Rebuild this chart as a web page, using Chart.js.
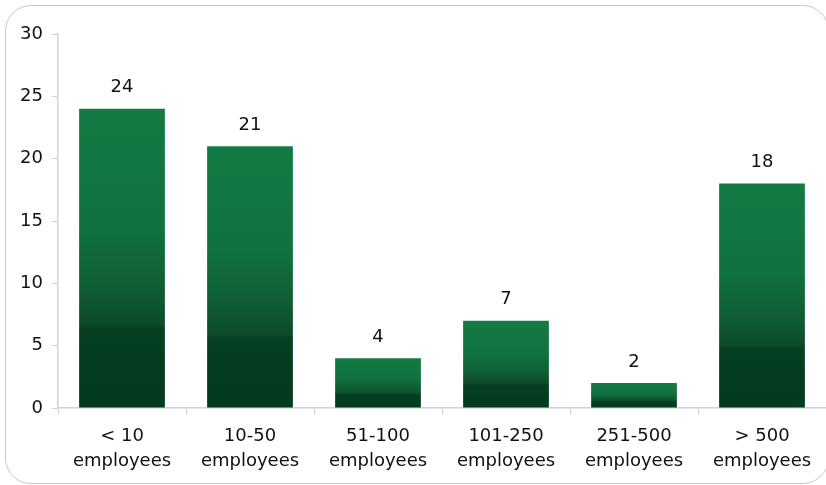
<!DOCTYPE html>
<html>
<head>
<meta charset="utf-8">
<script src="https://cdn.jsdelivr.net/npm/chart.js@4"></script>
<style>
  html, body { margin:0; padding:0; background:#fff; }
  body { width:826px; height:485px; overflow:hidden; position:relative; }
  .frame {
    position:absolute; left:5px; top:5px; width:824px; height:479px;
    border:1.5px solid #cacaca; border-radius:26px; box-sizing:border-box;
  }
  #wrap { position:absolute; left:0; top:0; width:826px; height:485px; }
</style>
</head>
<body>
<div class="frame"></div>
<div id="wrap"><canvas id="chart"></canvas></div>
<script>
(function(){
  const categories = [['< 10', 'employees'], ['10-50', 'employees'], ['51-100', 'employees'],
                      ['101-250', 'employees'], ['251-500', 'employees'], ['> 500', 'employees']];
  const counts = [24, 21, 4, 7, 2, 18];
  const yTicks = [0, 5, 10, 15, 20, 25, 30];

  const FONT = 'DejaVu Sans';
  const axisGrey = '#d2d2d2';

  // each bar gets its own gradient, green on top, dark at the base
  function barFill(ctx){
    const chart = ctx.chart;
    if (!chart.chartArea || ctx.dataIndex === undefined) return '#0f6b39';
    const y = chart.scales.y;
    const top = y.getPixelForValue(counts[ctx.dataIndex]);
    const base = y.getPixelForValue(0);
    const g = chart.ctx.createLinearGradient(0, top, 0, base);
    g.addColorStop(0, '#137b44');
    g.addColorStop(0.4, '#117140');
    g.addColorStop(0.6, '#0f5d34');
    g.addColorStop(0.72, '#0d4b2a');
    g.addColorStop(0.735, '#053f21');
    g.addColorStop(1, '#023a1e');
    return g;
  }

  const valueLabels = {
    id: 'valueLabels',
    afterDatasetsDraw(chart){
      const c = chart.ctx;
      const meta = chart.getDatasetMeta(0);
      c.save();
      c.font = '18px "' + FONT + '"';
      c.fillStyle = '#111';
      c.textAlign = 'center';
      c.textBaseline = 'middle';
      meta.data.forEach((bar, i) => {
        c.fillText(String(counts[i]), bar.x, bar.y - 21);
      });
      c.restore();
    }
  };

  Chart.defaults.font.family = FONT;
  Chart.defaults.font.size = 18;
  Chart.defaults.color = '#111';

  new Chart(document.getElementById('chart'), {
    type: 'bar',
    data: {
      labels: categories,
      datasets: [{
        data: counts,
        backgroundColor: barFill,
        borderWidth: 0,
        categoryPercentage: 0.67,
        barPercentage: 1
      }]
    },
    options: {
      responsive: true,
      maintainAspectRatio: false,
      animation: false,
      layout: { padding: { top: 34, right: 0, bottom: 0, left: 0 } },
      plugins: { legend: { display: false }, tooltip: { enabled: false } },
      scales: {
        x: {
          grid: { display: true, drawOnChartArea: false, offset: true, tickLength: 6, color: axisGrey },
          border: { color: axisGrey, width: 1.5 },
          ticks: { padding: 10, font: { size: 18, lineHeight: 1.4 }, color: '#111', maxRotation: 0 },
          afterFit(s){ s.height = 77; }
        },
        y: {
          min: 0, max: 30,
          afterBuildTicks(s){ s.ticks = yTicks.map(v => ({ value: v })); },
          grid: { display: true, drawOnChartArea: false, tickLength: 6, color: axisGrey },
          border: { color: axisGrey, width: 1.5 },
          ticks: { padding: 9, font: { size: 18 }, color: '#111' },
          afterFit(s){ s.width = 58; }
        }
      }
    },
    plugins: [valueLabels]
  });
})();
</script>
</body>
</html>
